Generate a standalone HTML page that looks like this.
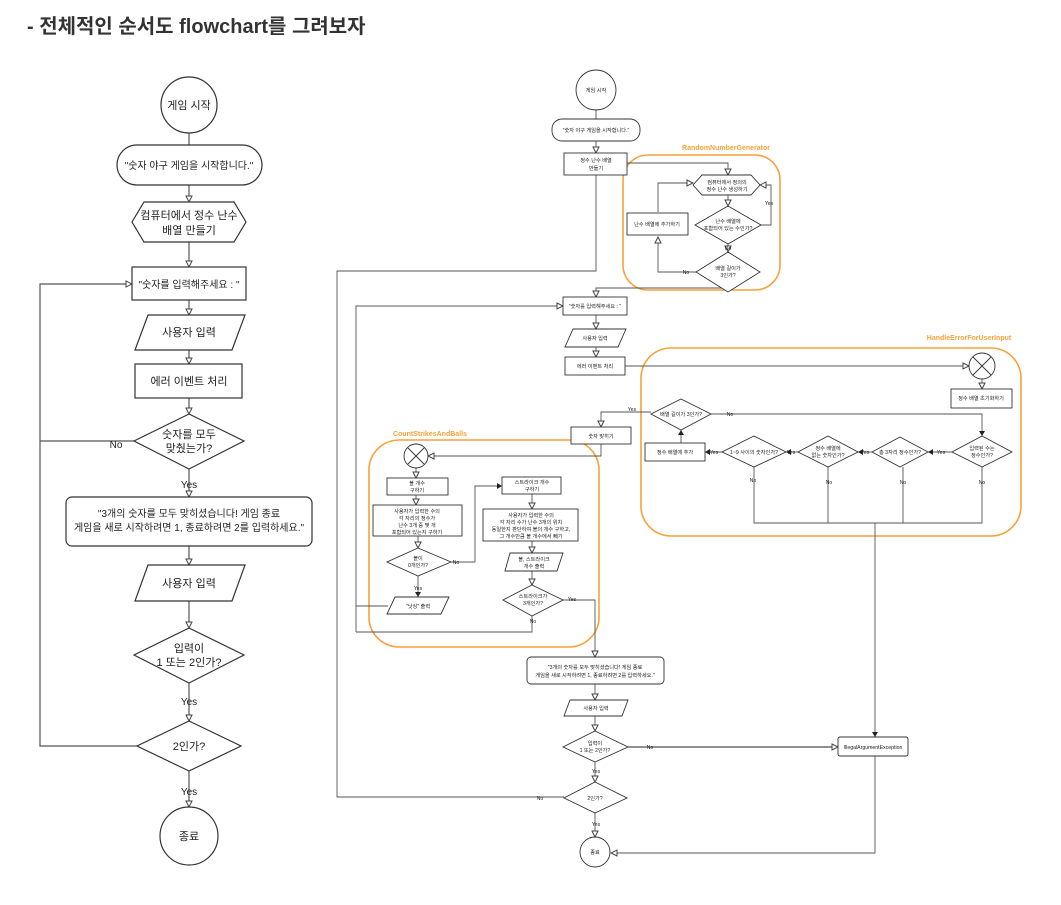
<!DOCTYPE html>
<html><head><meta charset="utf-8"><style>
html,body{margin:0;padding:0;background:#fff;}
svg{display:block;}
text{font-family:"Liberation Sans","Noto Sans CJK KR",sans-serif;fill:#222;}
</style></head><body>
<svg width="1061" height="905" viewBox="0 0 1061 905" xmlns="http://www.w3.org/2000/svg">
<defs>
<marker id="a" markerWidth="8" markerHeight="8" refX="7" refY="4" orient="auto" markerUnits="userSpaceOnUse"><path d="M1,1 L7,4 L1,7 Z" fill="#fff" stroke="#444" stroke-width="1"/></marker>
<marker id="s" markerWidth="6" markerHeight="6" refX="5" refY="3" orient="auto" markerUnits="userSpaceOnUse"><path d="M0,0 L5,3 L0,6 Z" fill="#222"/></marker>
</defs>
<text x="27" y="33" font-size="20" font-weight="bold" style="fill:#333">- 전체적인 순서도 flowchart를 그려보자</text>

<!-- LEFT CHART -->
<g stroke="#555" stroke-width="1.2" fill="none">
<line x1="189" y1="133" x2="189" y2="145"/>
<line x1="189" y1="185" x2="189" y2="202" marker-end="url(#a)"/>
<line x1="189" y1="242" x2="189" y2="267" marker-end="url(#a)"/>
<line x1="189" y1="300" x2="189" y2="315" marker-end="url(#a)"/>
<line x1="189" y1="350" x2="189" y2="364" marker-end="url(#a)"/>
<line x1="189" y1="398" x2="189" y2="414" marker-end="url(#a)"/>
<line x1="189" y1="469" x2="189" y2="497" marker-end="url(#a)"/>
<line x1="189" y1="546" x2="189" y2="565" marker-end="url(#a)"/>
<line x1="189" y1="601" x2="189" y2="628" marker-end="url(#a)"/>
<line x1="189" y1="683" x2="189" y2="721" marker-end="url(#a)"/>
<line x1="189" y1="771" x2="189" y2="807" marker-end="url(#a)"/>
<polyline points="134,441 40,441 40,284 132,284" marker-end="url(#a)"/>
<polyline points="137,746 40,746 40,441"/>
</g>
<g stroke="#333" stroke-width="1.2" fill="#fff">
<circle cx="189" cy="105" r="28"/>
<rect x="117" y="145" width="145" height="40" rx="20"/>
<polygon points="144,202 234,202 246,222 234,242 144,242 132,222"/>
<rect x="132" y="267" width="114" height="33"/>
<polygon points="148,315 245,315 232,350 135,350"/>
<rect x="135" y="364" width="107" height="34"/>
<polygon points="189,414 244,441 189,469 134,441"/>
<rect x="66" y="497" width="246" height="49" rx="6"/>
<polygon points="148,565 245,565 232,601 135,601"/>
<polygon points="189,628 244,655 189,683 134,655"/>
<polygon points="189,721 241,746 189,771 137,746"/>
<circle cx="189" cy="836" r="29"/>
</g>
<g font-size="11" text-anchor="middle">
<text x="189" y="109">게임 시작</text>
<text x="189" y="169" font-size="10">"숫자 야구 게임을 시작합니다."</text>
<text x="189" y="219">컴퓨터에서 정수 난수</text>
<text x="189" y="234">배열 만들기</text>
<text x="189" y="288" font-size="10">"숫자를 입력해주세요 : "</text>
<text x="189" y="336">사용자 입력</text>
<text x="189" y="385">에러 이벤트 처리</text>
<text x="189" y="438">숫자를 모두</text>
<text x="189" y="452">맞췄는가?</text>
<text x="189" y="517" font-size="10">"3개의 숫자를 모두 맞히셨습니다! 게임 종료</text>
<text x="189" y="531" font-size="10">게임을 새로 시작하려면 1, 종료하려면 2를 입력하세요."</text>
<text x="189" y="587">사용자 입력</text>
<text x="189" y="652">입력이</text>
<text x="189" y="666">1 또는 2인가?</text>
<text x="189" y="750">2인가?</text>
<text x="189" y="840">종료</text>
<g font-size="10"><text x="116" y="448">No</text><text x="189" y="488">Yes</text><text x="189" y="705">Yes</text><text x="189" y="795">Yes</text></g>
</g>

<!-- RIGHT CHART: orange groups -->
<g stroke="#f7a23a" stroke-width="1.6" fill="none">
<rect x="623" y="155" width="157" height="135" rx="25"/>
<rect x="641" y="348" width="380" height="188" rx="30"/>
<rect x="369" y="440" width="230" height="207" rx="30"/>
</g>
<g font-size="7" font-weight="bold" text-anchor="middle">
<text x="726" y="150" style="fill:#f7a23a">RandomNumberGenerator</text>
<text x="969" y="340" style="fill:#f7a23a">HandleErrorForUserInput</text>
<text x="430" y="436" style="fill:#f7a23a">CountStrikesAndBalls</text>
</g>

<g stroke="#555" stroke-width="0.9" fill="none">
<line x1="596" y1="110" x2="596" y2="119"/>
<line x1="596" y1="141" x2="596" y2="153" marker-end="url(#a)"/>
<polyline points="627,163 728,163 728,175" marker-end="url(#a)"/>
<line x1="728" y1="195" x2="728" y2="206" marker-end="url(#a)"/>
<polyline points="761,225 771,225 771,185 760,185" marker-end="url(#a)"/>
<polyline points="658,212 658,183 693,183" marker-end="url(#a)"/>
<line x1="728" y1="244" x2="728" y2="252" marker-end="url(#a)"/>
<polyline points="696,272 658,272 658,237" marker-end="url(#a)"/>
<polyline points="728,292 728,288 596,288 596,297" marker-end="url(#a)"/>
<polyline points="596,175 596,271 337,271 337,797 564,797"/>
<polyline points="356,632 356,306 563,306" marker-end="url(#a)"/>
<line x1="596" y1="315" x2="596" y2="329" marker-end="url(#a)"/>
<line x1="596" y1="347" x2="596" y2="357" marker-end="url(#a)"/>
<polyline points="625,366 969,366" marker-end="url(#a)"/>
<line x1="982" y1="379" x2="982" y2="389" marker-end="url(#a)"/>
<polyline points="711,414 982,414 982,436" marker-end="url(#s)"/>
<line x1="952" y1="452" x2="928" y2="452" marker-end="url(#s)"/>
<line x1="872" y1="452" x2="858" y2="452" marker-end="url(#s)"/>
<line x1="798" y1="452" x2="786" y2="452" marker-end="url(#s)"/>
<line x1="722" y1="452" x2="705" y2="452" marker-end="url(#s)"/>
<line x1="681" y1="443" x2="681" y2="430" marker-end="url(#s)"/>
<polyline points="754,467 754,523 982,523 982,467"/>
<line x1="828" y1="467" x2="828" y2="523"/>
<line x1="903" y1="467" x2="903" y2="523"/>
<line x1="875" y1="523" x2="875" y2="737" marker-end="url(#s)"/>
<polyline points="651,412 601,412 601,427" marker-end="url(#a)"/>
<polyline points="601,444 601,456 428,456" marker-end="url(#a)"/>
<line x1="416" y1="468" x2="416" y2="478" marker-end="url(#a)"/>
<line x1="416" y1="495" x2="416" y2="505" marker-end="url(#a)"/>
<line x1="418" y1="536" x2="418" y2="548" marker-end="url(#a)"/>
<line x1="418" y1="576" x2="418" y2="597" marker-end="url(#s)"/>
<polyline points="388,606 356,606"/>
<polyline points="451,562 475,562 475,486 502,486" marker-end="url(#s)"/>
<line x1="532" y1="494" x2="532" y2="509" marker-end="url(#a)"/>
<line x1="532" y1="541" x2="532" y2="553" marker-end="url(#a)"/>
<line x1="532" y1="571" x2="532" y2="585" marker-end="url(#a)"/>
<polyline points="532,616 532,632 356,632"/>
<polyline points="563,600 595,600 595,657" marker-end="url(#a)"/>
<line x1="595" y1="684" x2="595" y2="700" marker-end="url(#a)"/>
<line x1="595" y1="716" x2="595" y2="731" marker-end="url(#a)"/>
<line x1="628" y1="747" x2="838" y2="747" marker-end="url(#a)" stroke="#222"/>
<line x1="595" y1="762" x2="595" y2="782" marker-end="url(#a)"/>
<line x1="595" y1="813" x2="595" y2="837" marker-end="url(#a)"/>
<polyline points="875,756 875,853 611,853" marker-end="url(#a)"/>
</g>

<g stroke="#333" stroke-width="0.9" fill="#fff">
<circle cx="596" cy="90" r="20"/>
<rect x="552" y="119" width="88" height="22" rx="10"/>
<rect x="564" y="153" width="63" height="22"/>
<polygon points="702,175 751,175 760,185 751,195 702,195 693,185"/>
<polygon points="728,206 761,225 728,244 695,225"/>
<rect x="627" y="213" width="61" height="22"/>
<polygon points="728,252 760,272 728,292 696,272"/>
<rect x="563" y="297" width="64" height="18"/>
<polygon points="573,329 626,329 618,347 565,347"/>
<rect x="565" y="357" width="60" height="18"/>
<circle cx="982" cy="366" r="13"/>
<line x1="973" y1="357" x2="991" y2="375"/><line x1="991" y1="357" x2="973" y2="375"/>
<rect x="951" y="389" width="61" height="19"/>
<polygon points="982,436 1012,452 982,467 952,452"/>
<polygon points="900,437 928,452 900,467 872,452"/>
<polygon points="828,436 858,452 828,467 798,452"/>
<polygon points="754,436 786,452 754,467 722,452"/>
<rect x="645" y="443" width="60" height="18"/>
<polygon points="681,399 711,414 681,430 651,414"/>
<rect x="571" y="427" width="60" height="17"/>
<circle cx="416" cy="456" r="12"/>
<line x1="408" y1="448" x2="424" y2="464"/><line x1="424" y1="448" x2="408" y2="464"/>
<rect x="387" y="478" width="61" height="17"/>
<rect x="373" y="505" width="89" height="31"/>
<polygon points="418,548 451,562 418,576 387,562"/>
<polygon points="395,597 449,597 441,614 387,614"/>
<rect x="502" y="477" width="59" height="17"/>
<rect x="483" y="509" width="95" height="32"/>
<polygon points="510,553 563,553 557,571 505,571"/>
<polygon points="532,585 563,600 532,616 503,600"/>
<rect x="527" y="657" width="137" height="27" rx="4"/>
<polygon points="570,700 628,700 622,716 564,716"/>
<polygon points="595,731 628,747 595,762 563,747"/>
<polygon points="595,782 627,798 595,813 564,798"/>
<circle cx="595" cy="852" r="15"/>
<rect x="838" y="737" width="70" height="19" rx="2"/>
</g>

<g font-size="5.2" text-anchor="middle">
<text x="596" y="92">게임 시작</text>
<text x="596" y="132">"숫자 야구 게임을 시작합니다."</text>
<text x="596" y="162">정수 난수 배열</text><text x="596" y="170">만들기</text>
<text x="727" y="184">컴퓨터에서 정의의</text><text x="727" y="191">정수 난수 생성하기</text>
<text x="728" y="223">난수 배열에</text><text x="728" y="230">포함되어 있는 수인가?</text>
<text x="657" y="226">난수 배열에 추가하기</text>
<text x="728" y="270">배열 길이가</text><text x="728" y="277">3인가?</text>
<text x="595" y="308">"숫자를 입력해주세요 : "</text>
<text x="595" y="340">사용자 입력</text>
<text x="595" y="368">에러 이벤트 처리</text>
<text x="981" y="400">정수 배열 초기화하기</text>
<text x="982" y="450">입력된 수는</text><text x="982" y="457">정수인가?</text>
<text x="900" y="454">총 3자리 정수인가?</text>
<text x="828" y="450">정수 배열에</text><text x="828" y="457">없는 숫자인가?</text>
<text x="754" y="454">1~9 사이의 숫자인가?</text>
<text x="675" y="454">정수 배열에 추가</text>
<text x="681" y="416">배열 길이가 3인가?</text>
<text x="601" y="438">숫자 맞히기</text>
<text x="417" y="485">볼 개수</text><text x="417" y="492">구하기</text>
<text x="417" y="513">사용자가 입력한 수의</text><text x="417" y="520">각 자리의 정수가</text><text x="417" y="527">난수 3개 중 몇 개</text><text x="417" y="534">포함되어 있는지 구하기</text>
<text x="418" y="560">볼이</text><text x="418" y="567">0개인가?</text>
<text x="418" y="608">"낫싱" 출력</text>
<text x="532" y="484">스트라이크 개수</text><text x="532" y="491">구하기</text>
<text x="531" y="517">사용자가 입력한 수의</text><text x="531" y="524">각 자리 수가 난수 3개의 위치</text><text x="531" y="531">동일한지 판단하여 볼의 개수 구하고,</text><text x="531" y="538">그 개수만큼 볼 개수에서 빼기</text>
<text x="534" y="561">볼, 스트라이크</text><text x="534" y="568">개수 출력</text>
<text x="533" y="598">스트라이크가</text><text x="533" y="605">3개인가?</text>
<text x="595" y="669">"3개의 숫자를 모두 맞히셨습니다! 게임 종료</text><text x="595" y="677">게임을 새로 시작하려면 1, 종료하려면 2를 입력하세요."</text>
<text x="596" y="710">사용자 입력</text>
<text x="595" y="745">입력이</text><text x="595" y="752">1 또는 2인가?</text>
<text x="595" y="800">2인가?</text>
<text x="595" y="854">종료</text>
<text x="873" y="749">IllegalArgumentException</text>
</g>
<g font-size="5" text-anchor="middle">
<text x="769" y="205">Yes</text><text x="728" y="250">No</text><text x="686" y="274">No</text>
<text x="632" y="411">Yes</text><text x="730" y="416">No</text>
<text x="941" y="454">Yes</text><text x="865" y="454">Yes</text><text x="791" y="454">Yes</text><text x="714" y="454">Yes</text>
<text x="753" y="482">No</text><text x="829" y="484">No</text><text x="903" y="484">No</text><text x="982" y="484">No</text>
<text x="418" y="590">Yes</text><text x="456" y="564">No</text>
<text x="572" y="601">Yes</text><text x="533" y="623">No</text>
<text x="650" y="749">No</text><text x="596" y="773">Yes</text><text x="540" y="800">No</text><text x="596" y="826">Yes</text>
</g>
</svg>
</body></html>
